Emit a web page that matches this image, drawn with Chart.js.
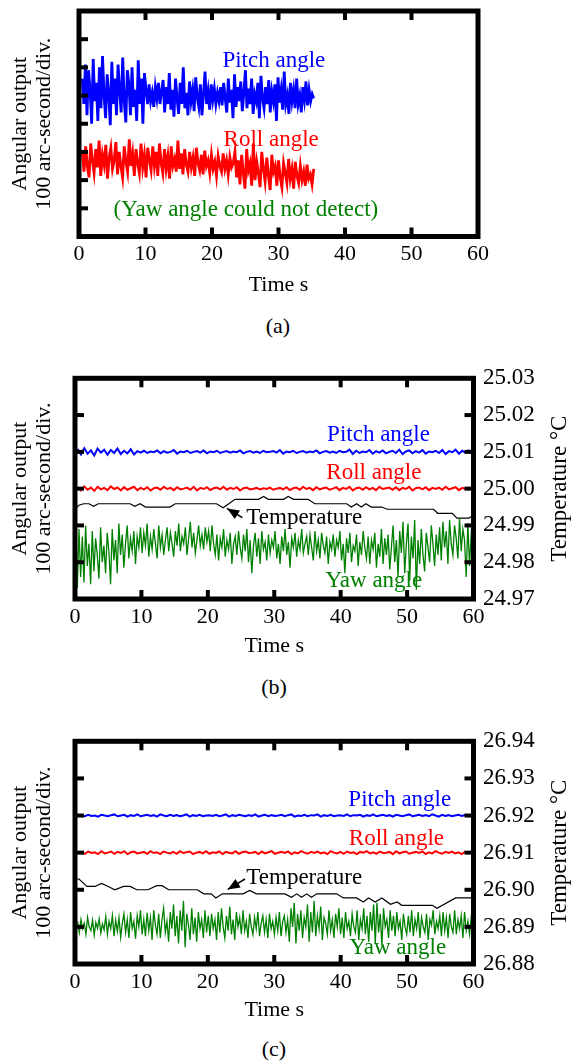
<!DOCTYPE html>
<html>
<head>
<meta charset="utf-8">
<script src="https://cdn.jsdelivr.net/npm/chart.js@4.4.0/dist/chart.umd.min.js"></script>
<style>
body { margin:0; background:#fff; width:572px; height:1062px; position:relative; overflow:hidden; font-family:"Liberation Serif", "Times New Roman", serif; }
canvas { position:absolute; left:0; }
.cap { position:absolute; width:60px; text-align:center; font-size:22px; line-height:26px; color:#000; }
</style>
</head>
<body>
<canvas id="chartA" width="572" height="300" style="top:0px"></canvas>
<canvas id="chartB" width="572" height="310" style="top:355px"></canvas>
<canvas id="chartC" width="572" height="310" style="top:718px"></canvas>
<div class="cap" style="left:248px;top:313px">(a)</div>
<div class="cap" style="left:244px;top:674px">(b)</div>
<div class="cap" style="left:244px;top:1036px">(c)</div>
<script>
// ---- panel (a): angular output, arc-second (100 per division) ----
var tStartA = 0.5, tEndA = 35.3;
var pitchA = [560, 470, 610, 430, 590, 520, 400, 630, 480, 545, 410, 600, 455, 640, 500, 420, 575, 505, 395, 620,
  470, 560, 430, 610, 520, 440, 635, 480, 405, 590, 540, 430, 600, 460, 520, 410, 625, 470, 560, 400, 580,
  520, 470, 540, 480, 510, 460, 530, 490, 545, 470, 515,
  555, 440, 530, 470, 580, 450, 520, 425, 560, 490, 435, 545, 470, 600, 455, 510, 430, 550, 480, 520,
  445, 565, 495, 460, 540, 430, 505, 585, 470, 515, 450, 540, 485, 525, 470, 510, 480, 530, 465, 545,
  490, 440, 560, 475, 520, 420, 575, 460, 530, 480, 550, 445, 510, 590, 455, 525, 470, 560, 435, 505,
  480, 545, 420, 570, 490, 455, 530, 470, 555, 440, 515, 480, 540, 410, 565, 475, 520, 450, 585, 470,
  500, 435, 545, 480, 520, 455, 560, 470, 500, 440, 530, 485, 550, 465, 520, 480, 505, 490];
var rollA = [300, 230, 320, 250, 210, 330, 270, 225, 310, 245, 340, 215, 290, 255, 325, 205, 280, 315, 240, 270,
  335, 220, 300, 250, 210, 320, 265, 230, 345, 250, 295, 215, 310, 260, 225, 330, 245, 290, 210, 315,
  270, 235, 320, 250, 300, 215, 330, 260, 225, 310, 240, 285, 205, 320, 250, 275, 230, 340, 240, 295,
  220, 310, 255, 230, 300, 245, 280, 215, 315, 260, 235, 290, 220, 305, 250,
  270, 225, 290, 240, 265, 215, 285, 250, 230, 295, 240, 270, 220, 280, 245, 260,
  300, 210, 270, 185, 290, 225, 170, 310, 235, 260, 180, 330, 200, 265, 225, 175, 300, 240, 195, 280,
  215, 165, 290, 230, 250, 180, 270, 210, 175, 260, 225, 190, 275, 205, 240, 170, 265, 215, 190, 250,
  200, 230, 180, 255, 205, 220, 185, 240];

// ---- panel (b) ----
var tStartB = 0.4, tEndB = 59.8;
var pitchB = [408, 393, 410, 395, 404, 390, 409, 398, 406, 392, 405, 397, 409, 394, 403, 396, 407, 393, 402, 398,
  403, 397, 401, 399, 404, 396, 402, 398, 400, 405, 395, 401, 399, 403, 397, 400, 402, 398, 404, 396,
  401, 399, 403, 397, 400, 402, 398, 401, 399, 404, 396, 400, 402, 398, 401, 397, 403, 399, 400, 402,
  398, 405, 395, 401, 399, 403, 397, 400, 402, 398, 401, 399, 404, 396, 400, 402, 398, 401, 397, 403,
  399, 400, 406, 394, 403, 397, 401, 399, 405, 395, 402, 398, 404, 396, 400, 403, 397, 406, 394, 401,
  404, 396, 402, 398, 405, 395, 401, 399, 403, 397, 405, 394, 402, 399, 406, 395, 403, 398, 404, 397];
var rollB = [304, 295, 306, 297, 303, 294, 305, 298, 302, 296, 306, 299, 303, 295, 304, 297, 301, 305, 296, 302,
  298, 304, 295, 301, 303, 297, 305, 299, 302, 296, 304, 298, 300, 303, 297, 305, 295, 302, 299, 304,
  296, 301, 303, 298, 305, 297, 302, 299, 304, 295, 301, 303, 298, 300, 302, 298, 301, 299, 303, 297,
  300, 302, 298, 304, 296, 301, 303, 297, 305, 299, 302, 296, 304, 298, 301, 303, 297, 300, 304, 296,
  302, 299, 305, 295, 301, 303, 297, 304, 298, 302, 296, 305, 299, 301, 303, 297, 304, 296, 302, 299,
  305, 295, 301, 303, 298, 304, 296, 302, 299, 303, 297, 305, 298, 301, 304, 296, 302, 299, 303, 297];
var tStartYawB = 0.1, tEndYawB = 59.9;
var yawB = [215, 30, 190, 60, 170, 45, 200, 90, 150, 40, 185, 75, 165, 120, 55, 195, 100, 145, 70, 180,
  130, 40, 190, 105, 160, 70, 205, 120, 175, 85, 150, 200, 110, 165, 130, 185, 95, 170, 140, 195,
  125, 180, 145, 205, 115, 170, 135, 190, 150, 110, 200, 140, 175, 120, 160, 195, 130, 180, 150, 115,
  185, 145, 205, 130, 170, 150, 195, 120, 165, 210, 140, 180, 125, 160, 200, 145, 175, 135, 195, 155,
  185, 130, 200, 150, 120, 175, 105, 165, 140, 190, 115, 160, 135, 180, 95, 150, 170, 120, 185, 140,
  110, 175, 130, 190, 100, 160, 70, 145, 180, 115, 165, 95, 185, 135, 155, 105, 175, 125, 160, 140,
  185, 110, 150, 95, 170, 130, 190, 120, 155, 85, 165, 140, 180, 115, 160, 135, 190, 125, 150, 170,
  120, 175, 140, 105, 185, 130, 160, 110, 180, 145, 125, 170, 95, 155, 135, 175, 115, 160, 140, 185,
  105, 150, 70, 165, 125, 180, 100, 145, 130, 175, 90, 155, 120, 185, 140, 110, 170, 95, 160, 135,
  180, 85, 150, 115, 190, 95, 165, 120, 175, 80, 140, 200, 100, 160, 60, 185, 125, 210, 70, 150,
  205, 50, 170, 110, 215, 25, 160, 95, 190, 120, 75, 180, 140, 100, 200, 150, 90, 175, 120, 195,
  105, 210, 140, 185, 95, 215, 150, 120, 200, 165, 110, 220, 130, 190, 160, 60, 205, 90, 175, 145];
var tempTimeB = [0, 0.6, 1.3, 2.1, 2.8, 3.5, 8.3, 9.0, 9.8, 10.6, 14.3, 15.1, 21.3, 22.3, 24.1, 27.6, 28.4, 29.1,
  31.4, 32.1, 32.9, 35.1, 36.1, 40.9, 41.6, 42.4, 43.1, 43.8, 44.6, 46.2, 47.0, 54.0, 54.6, 56.8, 57.5, 59.3, 60];
var tempB = [24.9944, 24.9955, 24.9959, 24.9959, 24.9952, 24.9959, 24.9959, 24.9952, 24.9959, 24.9950, 24.9950,
  24.9959, 24.9959, 24.9948, 24.9971, 24.9971, 24.9979, 24.9971, 24.9971, 24.9979, 24.9971, 24.9971, 24.9959,
  24.9959, 24.9950, 24.9959, 24.9950, 24.9959, 24.9950, 24.9950, 24.9944, 24.9944, 24.9933, 24.9933, 24.9920,
  24.9920, 24.9927];
var tempRangeB = [24.97, 25.03];

// ---- panel (c) ----
var tStartC = 1.0, tEndC = 59.7;
var pitchC = [401, 398, 402, 399, 400, 397, 402, 400, 398, 401, 403, 398, 400, 402, 397, 401, 399, 403, 398, 400,
  402, 399, 401, 397, 403, 400, 398, 402, 399, 401, 398, 400, 403, 397, 401, 399, 402, 398, 400, 401,
  399, 402, 398, 400, 403, 397, 401, 399, 402, 400, 398, 401, 399, 403, 397, 400, 402, 398, 401, 399,
  400, 402, 398, 401, 403, 397, 400, 399, 402, 398, 401, 400, 403, 397, 401, 399, 402, 398, 400, 401,
  399, 403, 398, 401, 400, 402, 397, 401, 399, 403, 398, 400, 402, 399, 401, 397, 402, 400, 398, 401,
  403, 398, 400, 402, 399, 401, 398, 403, 400, 397, 402, 399, 401, 398, 400, 402, 399, 401, 398, 400];
var rollC = [302, 297, 303, 299, 301, 296, 304, 298, 300, 303, 297, 302, 299, 304, 296, 301, 303, 298, 300, 302,
  297, 304, 299, 301, 296, 303, 300, 298, 302, 297, 304, 299, 301, 303, 296, 300, 302, 298, 304, 297,
  301, 299, 303, 296, 302, 300, 298, 304, 297, 301, 303, 299, 300, 302, 296, 303, 298, 301, 304, 297,
  300, 302, 299, 303, 296, 301, 298, 304, 300, 297, 302, 299, 303, 298, 301, 296, 304, 300, 298, 302,
  297, 303, 299, 301, 296, 302, 300, 304, 298, 301, 297, 303, 299, 300, 302, 296, 304, 298, 301, 303,
  297, 300, 302, 299, 303, 296, 301, 298, 304, 300, 297, 302, 299, 303, 298, 301, 296, 302, 300, 299];
var tStartYawC = 0.4, tEndYawC = 59.9;
var yawC = [115, 85, 120, 95, 110, 80, 125, 100, 90, 118, 78, 112, 96, 122, 84, 108, 92, 128, 80, 115,
  95, 130, 75, 118, 88, 125, 72, 110, 135, 85, 120, 70, 140, 95, 115, 68, 130, 100, 145, 80,
  120, 75, 138, 90, 125, 65, 145, 105, 80, 135, 70, 120, 150, 85, 115, 60, 140, 95, 160, 75,
  130, 55, 145, 90, 170, 45, 135, 105, 65, 150, 80, 125, 60, 140, 95, 120, 70, 145, 85, 130,
  75, 135, 95, 120, 65, 140, 85, 150, 100, 70, 130, 90, 155, 80, 120, 65, 140, 100, 125, 80,
  145, 90, 115, 70, 135, 100, 80, 125, 95, 140, 75, 110, 130, 85, 120, 70, 135, 95, 115, 80,
  125, 90, 140, 75, 115, 130, 85, 120, 60, 150, 100, 165, 55, 135, 90, 145, 70, 125, 100, 160,
  60, 140, 85, 170, 75, 130, 95, 155, 65, 125, 110, 80, 145, 90, 120, 70, 135, 100, 150, 80,
  125, 70, 140, 95, 115, 75, 135, 100, 85, 145, 65, 120, 95, 150, 80, 130, 60, 140, 90, 160,
  55, 165, 85, 135, 50, 150, 100, 120, 70, 145, 90, 130, 75, 140, 95, 115, 65, 135, 100, 80,
  130, 85, 145, 75, 120, 95, 140, 70, 125, 100, 85, 135, 65, 120, 105, 145, 80, 115, 95, 130,
  75, 140, 90, 125, 70, 135, 100, 85, 145, 80, 120, 95, 130, 70, 140, 90, 115, 80, 125, 100];
var tempTimeC = [0, 0.6, 1.8, 3.0, 4.0, 5.0, 6.0, 7.3, 8.3, 9.3, 11.0, 12.3, 13.1, 14.1, 18.4, 19.4, 20.5, 21.2,
  22.2, 25.3, 26.3, 27.3, 31.6, 32.6, 33.4, 34.1, 34.9, 35.6, 36.4, 39.4, 40.4, 42.4, 43.4, 44.2, 45.2, 46.2,
  47.5, 48.5, 49.2, 53.8, 54.5, 57.3, 59.8, 60];
var tempC = [26.9029, 26.9029, 26.9009, 26.9009, 26.9017, 26.9009, 26.9000, 26.9009, 26.9009, 26.9000, 26.9000,
  26.9011, 26.9011, 26.9000, 26.9000, 26.8989, 26.8989, 26.8978, 26.8989, 26.8989, 26.8998, 26.8989, 26.8989,
  26.8980, 26.8989, 26.8980, 26.8989, 26.8980, 26.8989, 26.8989, 26.8978, 26.8978, 26.8967, 26.8978, 26.8967,
  26.8978, 26.8961, 26.8967, 26.8958, 26.8958, 26.8950, 26.8978, 26.8978, 26.8974];
var tempRangeC = [26.88, 26.94];

var serif = '"Liberation Serif", "Times New Roman", serif';
Chart.defaults.font.family = serif;
Chart.defaults.color = '#000';

function series(t0, t1, vals) {
  var dt = (t1 - t0) / (vals.length - 1);
  return vals.map(function(v, i) { return {x: t0 + i * dt, y: v}; });
}
function pairs(ts, vals) {
  return vals.map(function(v, i) { return {x: ts[i], y: v}; });
}

// frame, inward ticks, notes, arrow and right title
var framePlugin = {
  id: 'frame',
  afterDatasetsDraw: function(chart, args, opts) {
    var ctx = chart.ctx, a = chart.chartArea;
    var xs = chart.scales.x, ys = chart.scales.y;
    ctx.save();
    ctx.textBaseline = 'middle';
    ctx.font = '23px ' + serif;
    (opts.notes || []).forEach(function(n) {
      ctx.fillStyle = n.color;
      ctx.textAlign = n.align || 'center';
      ctx.fillText(n.text, xs.getPixelForValue(n.t), ys.getPixelForValue(n.v));
    });
    if (opts.arrow) {
      var x0 = xs.getPixelForValue(opts.arrow.from[0]), y0 = ys.getPixelForValue(opts.arrow.from[1]);
      var x1 = xs.getPixelForValue(opts.arrow.to[0]), y1 = ys.getPixelForValue(opts.arrow.to[1]);
      var ang = Math.atan2(y1 - y0, x1 - x0);
      ctx.strokeStyle = '#000'; ctx.lineWidth = 1.5;
      ctx.beginPath(); ctx.moveTo(x0, y0); ctx.lineTo(x1, y1); ctx.stroke();
      ctx.fillStyle = '#000';
      ctx.beginPath();
      ctx.moveTo(x1, y1);
      ctx.lineTo(x1 - 12 * Math.cos(ang) + 5 * Math.sin(ang), y1 - 12 * Math.sin(ang) - 5 * Math.cos(ang));
      ctx.lineTo(x1 - 12 * Math.cos(ang) - 5 * Math.sin(ang), y1 - 12 * Math.sin(ang) + 5 * Math.cos(ang));
      ctx.closePath(); ctx.fill();
    }
    ctx.strokeStyle = '#000';
    ctx.lineWidth = 5;
    ctx.strokeRect(a.left, a.top, a.right - a.left, a.bottom - a.top);
    ctx.fillStyle = '#000';
    xs.ticks.forEach(function(tk) {
      if (tk.value <= xs.min || tk.value >= xs.max) return;
      var px = xs.getPixelForValue(tk.value);
      ctx.fillRect(px - 2, a.top, 4, 9);
      ctx.fillRect(px - 2, a.bottom - 9, 4, 9);
    });
    ys.ticks.forEach(function(tk) {
      if (tk.value <= ys.min || tk.value >= ys.max) return;
      var py = ys.getPixelForValue(tk.value);
      ctx.fillRect(a.left, py - 2, 9, 4);
      if (opts.rightTicks) ctx.fillRect(a.right - 9, py - 2, 9, 4);
    });
    if (opts.rightTitle) {
      ctx.translate(560, (a.top + a.bottom) / 2);
      ctx.rotate(-Math.PI / 2);
      ctx.textAlign = 'center';
      ctx.fillText(opts.rightTitle, 0, 0);
    }
    ctx.restore();
  }
};

function xScale(h) {
  return {
    type: 'linear', min: 0, max: 60,
    ticks: {stepSize: 10, maxRotation: 0, padding: 6, font: {size: 22, lineHeight: 1.1}},
    grid: {display: false, drawTicks: false}, border: {display: false},
    title: {display: true, text: 'Time s', font: {size: 22, lineHeight: 1.1}, padding: 0},
    afterFit: function(s) { s.height = h; }
  };
}
function yScale(max, w) {
  return {
    min: 0, max: max,
    ticks: {stepSize: 100, display: false},
    grid: {display: false, drawTicks: false}, border: {display: false},
    title: {display: true, text: ['Angular output', '100 arc-second/div.'], font: {size: 22, lineHeight: 1.1}, padding: {top: 8, bottom: 0}},
    afterFit: function(s) { s.width = w; }
  };
}
function tempScale(range) {
  return {
    position: 'right', min: range[0], max: range[1],
    ticks: {stepSize: 0.01, padding: 9.5, font: {size: 23}, callback: function(v) { return v.toFixed(2); }},
    grid: {display: false, drawTicks: false}, border: {display: false},
    afterFit: function(s) { s.width = 98.5; }
  };
}
function line(data, color, width, axis) {
  return {data: data, borderColor: color, borderWidth: width, pointRadius: 0, tension: 0, yAxisID: axis || 'y'};
}
function makeChart(id, datasets, scales, padding, frame) {
  return new Chart(document.getElementById(id), {
    type: 'line',
    data: {datasets: datasets},
    options: {
      responsive: false, animation: false,
      layout: {padding: padding},
      plugins: {legend: {display: false}, tooltip: {enabled: false}, frame: frame},
      scales: scales
    },
    plugins: [framePlugin]
  });
}

makeChart('chartA', [
  line(series(tStartA, tEndA, pitchA), '#0000ff', 2.8),
  line(series(tStartA, tEndA, rollA), '#ff0000', 2.8)
], {x: xScale(61.15), y: yScale(800, 79)}, {top: 11, right: 94, bottom: 2.35, left: 0}, {
  notes: [
    {text: 'Pitch angle', t: 29.3, v: 622, color: '#0000ff'},
    {text: 'Roll angle', t: 28.9, v: 342, color: '#ff0000'},
    {text: '(Yaw angle could not detect)', t: 25.1, v: 94, color: '#008000'}
  ]
});

makeChart('chartB', [
  line(series(tStartYawB, tEndYawB, yawB), '#008000', 1.3),
  line(series(tStartB, tEndB, pitchB), '#0000ff', 2),
  line(series(tStartB, tEndB, rollB), '#ff0000', 2),
  line(pairs(tempTimeB, tempB), '#000', 1.2, 'y2')
], {x: xScale(59.65), y: yScale(600, 75), y2: tempScale(tempRangeB)}, {top: 18.5, right: 0, bottom: 6.35, left: 0}, {
  rightTicks: true, rightTitle: 'Temperature °C',
  notes: [
    {text: 'Pitch angle', t: 45.7, v: 445, color: '#0000ff'},
    {text: 'Roll angle', t: 45.0, v: 344, color: '#ff0000'},
    {text: 'Temperature', t: 25.8, v: 219, color: '#000', align: 'left'},
    {text: 'Yaw angle', t: 45.0, v: 50, color: '#008000'}
  ],
  arrow: {from: [25.2, 221], to: [22.9, 246]}
});

makeChart('chartC', [
  line(series(tStartYawC, tEndYawC, yawC), '#008000', 1.3),
  line(series(tStartC, tEndC, pitchC), '#0000ff', 2),
  line(series(tStartC, tEndC, rollC), '#ff0000', 2),
  line(pairs(tempTimeC, tempC), '#000', 1.2, 'y2')
], {x: xScale(58.65), y: yScale(600, 75), y2: tempScale(tempRangeC)}, {top: 19, right: 0, bottom: 5.35, left: 0}, {
  rightTicks: true, rightTitle: 'Temperature °C',
  notes: [
    {text: 'Pitch angle', t: 48.9, v: 443, color: '#0000ff'},
    {text: 'Roll angle', t: 48.4, v: 337, color: '#ff0000'},
    {text: 'Temperature', t: 25.8, v: 231, color: '#000', align: 'left'},
    {text: 'Yaw angle', t: 48.6, v: 42, color: '#008000'}
  ],
  arrow: {from: [25.6, 229], to: [23.0, 201]}
});
</script>
</body>
</html>
